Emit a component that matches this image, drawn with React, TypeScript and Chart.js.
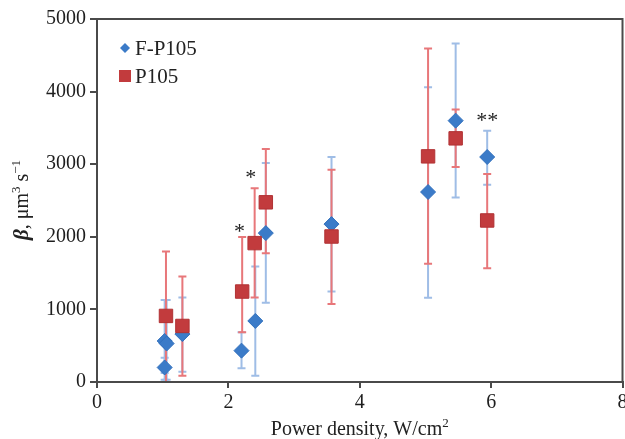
import React, { useEffect, useRef } from 'react';
import { Chart, registerables } from 'chart.js';

Chart.register(...registerables);

// ---- Data ----
const xTickStep = 2;
const xMin = 0;
const xMax = 8;
const yTickStep = 1000;
const yMin = 0;
const yMax = 5000;

const seriesNames = ['F-P105', 'P105'];

// F-P105 (blue diamonds)
const fX = [1.03, 1.03, 1.06, 1.30, 2.20, 2.41, 2.57, 3.57, 5.04, 5.46, 5.94];
const fY = [200, 565, 530, 660, 432, 841, 2051, 2175, 2617, 3600, 3099];
const fLo = [124, 30, 30, 140, 189, 87, 1090, 1246, 1159, 2542, 2717];
const fHi = [335, 1130, 1130, 1165, 686, 1590, 3017, 3099, 4059, 4662, 3462];

// P105 (red squares)
const pX = [1.05, 1.30, 2.21, 2.40, 2.57, 3.57, 5.04, 5.46, 5.94];
const pY = [910, 772, 1246, 1913, 2475, 2004, 3108, 3356, 2225];
const pLo = [0, 87, 686, 1165, 1775, 1076, 1628, 2961, 1568];
const pHi = [1797, 1452, 1996, 2670, 3210, 2924, 4593, 3752, 2865];

// significance marks
const annX = [2.17, 2.34, 5.94];
const annY = [2137, 2873, 3663];
const annText = ['*', '*', '**'];

const SERIF = "'Liberation Serif', 'Times New Roman', serif";
const BLUE = '#3b7bc8';
const BLUE_ERR = '#9fbde6';
const RED = '#c23b3d';
const RED_ERR = '#e8777a';
const AXIS = '#4a4a4a';

const errorBarsPlugin = {
  id: 'errorBars',
  beforeDatasetsDraw(chart: any) {
    const ctx = chart.ctx;
    const xs = chart.scales.x;
    const ys = chart.scales.y;
    const sets = [
      { X: fX, Lo: fLo, Hi: fHi, color: BLUE_ERR },
      { X: pX, Lo: pLo, Hi: pHi, color: RED_ERR },
    ];
    ctx.save();
    ctx.lineWidth = 2;
    sets.forEach((s) => {
      ctx.strokeStyle = s.color;
      s.X.forEach((xv: number, i: number) => {
        const px = xs.getPixelForValue(xv);
        const lo = ys.getPixelForValue(s.Lo[i]);
        const hi = ys.getPixelForValue(s.Hi[i]);
        ctx.beginPath();
        ctx.moveTo(px, lo);
        ctx.lineTo(px, hi);
        ctx.moveTo(px - 4, lo);
        ctx.lineTo(px + 4, lo);
        ctx.moveTo(px - 4, hi);
        ctx.lineTo(px + 4, hi);
        ctx.stroke();
      });
    });
    ctx.restore();
  },
};

const decorPlugin = {
  id: 'decor',
  afterDraw(chart: any) {
    const ctx = chart.ctx;
    const area = chart.chartArea;
    const xs = chart.scales.x;
    const ys = chart.scales.y;
    ctx.save();
    // frame
    ctx.strokeStyle = AXIS;
    ctx.lineWidth = 2;
    ctx.strokeRect(area.left, area.top, area.right - area.left, area.bottom - area.top);

    // annotations
    ctx.fillStyle = '#222';
    ctx.font = `22px ${SERIF}`;
    ctx.textAlign = 'center';
    ctx.textBaseline = 'alphabetic';
    annX.forEach((xv, i) => {
      ctx.fillText(annText[i], xs.getPixelForValue(xv), ys.getPixelForValue(annY[i]) + 11);
    });

    // legend
    ctx.textAlign = 'left';
    ctx.textBaseline = 'middle';
    ctx.font = `21px ${SERIF}`;
    const lx = area.left + 28;
    const ly1 = area.top + 29;
    const ly2 = area.top + 57;
    ctx.fillStyle = BLUE;
    ctx.beginPath();
    ctx.moveTo(lx, ly1 - 5);
    ctx.lineTo(lx + 5, ly1);
    ctx.lineTo(lx, ly1 + 5);
    ctx.lineTo(lx - 5, ly1);
    ctx.closePath();
    ctx.fill();
    ctx.fillStyle = RED;
    ctx.fillRect(lx - 6, ly2 - 6, 12, 12);
    ctx.fillStyle = '#222';
    ctx.fillText(seriesNames[0], lx + 10, ly1 + 1);
    ctx.fillText(seriesNames[1], lx + 10, ly2 + 1);

    // x title
    const xParts = [
      { t: 'Power density, W/cm', f: `20px ${SERIF}`, dy: 0 },
      { t: '2', f: `13px ${SERIF}`, dy: -8 },
    ];
    drawParts(ctx, xParts, (area.left + area.right) / 2, 435);

    // y title (rotated)
    ctx.translate(28, 200);
    ctx.rotate(-Math.PI / 2);
    const yParts = [
      { t: 'β', f: `italic bold 21px ${SERIF}`, dy: 0 },
      { t: ', μm', f: `20px ${SERIF}`, dy: 0 },
      { t: '3', f: `13px ${SERIF}`, dy: -8 },
      { t: ' s', f: `20px ${SERIF}`, dy: 0 },
      { t: '−1', f: `13px ${SERIF}`, dy: -8 },
    ];
    drawParts(ctx, yParts, 0, 0);
    ctx.restore();
  },
};

function drawParts(ctx: any, parts: any[], cx: number, baseY: number) {
  let total = 0;
  parts.forEach((p) => {
    ctx.font = p.f;
    total += ctx.measureText(p.t).width;
  });
  let x = cx - total / 2;
  ctx.textAlign = 'left';
  ctx.textBaseline = 'alphabetic';
  ctx.fillStyle = '#222';
  parts.forEach((p) => {
    ctx.font = p.f;
    ctx.fillText(p.t, x, baseY + p.dy);
    x += ctx.measureText(p.t).width;
  });
}

export default function App() {
  const ref = useRef<HTMLCanvasElement | null>(null);

  useEffect(() => {
    if (!ref.current) return;
    const chart = new Chart(ref.current, {
      type: 'scatter',
      data: {
        datasets: [
          {
            label: seriesNames[0],
            data: fX.map((x, i) => ({ x, y: fY[i] })),
            pointStyle: 'rectRot',
            pointRadius: 7.5,
            pointBackgroundColor: BLUE,
            pointBorderColor: '#3170bd',
            pointBorderWidth: 1,
            order: 2,
          },
          {
            label: seriesNames[1],
            data: pX.map((x, i) => ({ x, y: pY[i] })),
            pointStyle: 'rect',
            pointRadius: 9.5,
            pointBackgroundColor: RED,
            pointBorderColor: '#b13234',
            pointBorderWidth: 1,
            order: 1,
          },
        ],
      },
      options: {
        animation: false,
        responsive: false,
        devicePixelRatio: 1,
        layout: { padding: { top: 19, left: 0, right: 0, bottom: 0 } },
        plugins: { legend: { display: false }, tooltip: { enabled: false } },
        scales: {
          x: {
            type: 'linear',
            min: xMin,
            max: xMax,
            ticks: {
              stepSize: xTickStep,
              font: { family: SERIF, size: 20 },
              color: '#1e1e1e',
              padding: 3,
              maxRotation: 0,
              callback: (v: any) => String(v),
            },
            grid: { drawOnChartArea: false, drawTicks: true, tickLength: 6, color: AXIS, lineWidth: 2 },
            border: { display: true, color: AXIS, width: 2 },
            afterFit(s: any) {
              s.height = 57;
            },
          },
          y: {
            type: 'linear',
            min: yMin,
            max: yMax,
            ticks: {
              stepSize: yTickStep,
              font: { family: SERIF, size: 20 },
              color: '#1e1e1e',
              padding: 4,
              callback: (v: any) => String(v),
            },
            grid: { drawOnChartArea: false, drawTicks: true, tickLength: 7, color: AXIS, lineWidth: 2 },
            border: { display: true, color: AXIS, width: 2 },
            afterFit(s: any) {
              s.width = 97;
            },
          },
        },
      },
      plugins: [errorBarsPlugin, decorPlugin],
    } as any);
    return () => chart.destroy();
  }, []);

  return (
    <div style={{ position: 'absolute', left: 0, top: 0, width: 625, height: 439, overflow: 'hidden', background: '#fff' }}>
      <canvas ref={ref} width={633} height={439} style={{ display: 'block' }} />
    </div>
  );
}
